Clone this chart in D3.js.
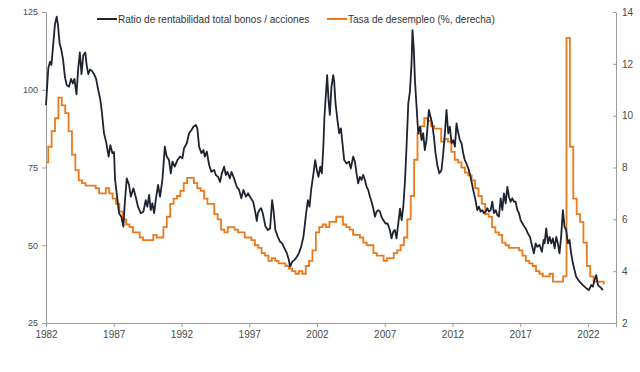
<!DOCTYPE html>
<html>
<head>
<meta charset="utf-8">
<script src="https://cdn.jsdelivr.net/npm/d3@7"></script>
<style>
  body { margin: 0; background: #fff; }
  svg { font-family: "Liberation Sans", Arial, sans-serif; }
</style>
</head>
<body>
<div id="chart-area"></div>
<script>
// ratio bonos / acciones (fechas en años decimales)
const ratioYears = [
  1982.00, 1982.17, 1982.30, 1982.40, 1982.54, 1982.66, 1982.79, 1982.88, 1983.00, 1983.12,
  1983.25, 1983.40, 1983.53, 1983.70, 1983.85, 1983.98, 1984.10, 1984.25, 1984.38, 1984.50,
  1984.62, 1984.75, 1984.90, 1985.00, 1985.12, 1985.25, 1985.40, 1985.55, 1985.70, 1985.85,
  1986.00, 1986.12, 1986.28, 1986.45, 1986.62, 1986.75, 1986.90, 1987.02, 1987.10, 1987.22,
  1987.39, 1987.56, 1987.71, 1987.83, 1987.96, 1988.13, 1988.26, 1988.45, 1988.62, 1988.79,
  1988.99, 1989.19, 1989.36, 1989.48, 1989.61, 1989.73, 1989.85, 1989.98, 1990.10, 1990.27,
  1990.42, 1990.59, 1990.77, 1990.91, 1991.08, 1991.21, 1991.33, 1991.50, 1991.70, 1991.90,
  1992.07, 1992.19, 1992.39, 1992.56, 1992.73, 1992.88, 1993.06, 1993.17, 1993.30, 1993.47,
  1993.62, 1993.72, 1993.87, 1994.04, 1994.21, 1994.41, 1994.53, 1994.70, 1994.85, 1994.98,
  1995.15, 1995.27, 1995.39, 1995.57, 1995.69, 1995.88, 1996.08, 1996.25, 1996.42, 1996.57,
  1996.75, 1996.92, 1997.12, 1997.29, 1997.44, 1997.56, 1997.64, 1997.75, 1997.88, 1998.00,
  1998.20, 1998.37, 1998.54, 1998.69, 1998.79, 1998.93, 1999.11, 1999.28, 1999.43, 1999.60,
  1999.78, 1999.92, 2000.02, 2000.17, 2000.34, 2000.52, 2000.66, 2000.83, 2001.00, 2001.20,
  2001.33, 2001.45, 2001.57, 2001.74, 2001.87, 2001.99, 2002.11, 2002.24, 2002.36, 2002.48,
  2002.55, 2002.68, 2002.75, 2002.85, 2002.95, 2003.07, 2003.20, 2003.27, 2003.37, 2003.51,
  2003.64, 2003.77, 2003.88, 2004.01, 2004.18, 2004.36, 2004.50, 2004.67, 2004.80, 2004.92,
  2005.04, 2005.17, 2005.29, 2005.41, 2005.54, 2005.66, 2005.78, 2005.91, 2006.03, 2006.15,
  2006.28, 2006.40, 2006.52, 2006.65, 2006.76, 2006.89, 2007.06, 2007.21, 2007.38, 2007.50,
  2007.63, 2007.75, 2007.87, 2008.00, 2008.13, 2008.25, 2008.37, 2008.50, 2008.61, 2008.74,
  2008.86, 2008.98, 2009.05, 2009.15, 2009.23, 2009.35, 2009.47, 2009.60, 2009.72, 2009.84,
  2009.96, 2010.08, 2010.26, 2010.38, 2010.50, 2010.63, 2010.75, 2010.90, 2011.04, 2011.19,
  2011.32, 2011.44, 2011.56, 2011.69, 2011.81, 2011.93, 2012.06, 2012.18, 2012.30, 2012.43,
  2012.55, 2012.67, 2012.79, 2012.91, 2013.03, 2013.21, 2013.36, 2013.53, 2013.70, 2013.83,
  2013.95, 2014.08, 2014.20, 2014.32, 2014.45, 2014.57, 2014.69, 2014.82, 2014.94, 2015.06,
  2015.19, 2015.31, 2015.43, 2015.56, 2015.68, 2015.80, 2015.93, 2016.05, 2016.17, 2016.29,
  2016.42, 2016.54, 2016.66, 2016.79, 2016.91, 2017.03, 2017.23, 2017.40, 2017.57, 2017.72,
  2017.89, 2018.01, 2018.14, 2018.26, 2018.43, 2018.60, 2018.73, 2018.80, 2018.92, 2019.05,
  2019.17, 2019.29, 2019.41, 2019.54, 2019.66, 2019.78, 2019.90, 2020.02, 2020.15, 2020.27,
  2020.39, 2020.52, 2020.64, 2020.76, 2020.89, 2021.01, 2021.13, 2021.38, 2021.62, 2021.87,
  2022.07, 2022.24, 2022.36, 2022.49, 2022.61, 2022.74, 2022.86, 2022.98, 2023.10
];
const ratioValues = [
  95, 107, 109, 108, 115, 121, 123.5, 121, 115, 113,
  110, 104, 101.5, 101, 103.5, 102, 103.5, 98.5, 107, 112,
  105, 111, 112, 108, 105, 106.5, 106, 105, 103.5, 100,
  97, 93, 86, 83, 78.5, 82.2, 79.6, 80, 71, 66.7,
  60.3, 59.2, 56, 64.5, 71.5, 69.4, 65.6, 68.3, 65.6, 62.4,
  60.3, 60.8, 64.5, 62.4, 66.2, 61.3, 63.5, 60.3, 64.5, 69.4,
  65.6, 71, 81.7, 78.5, 77.4, 73.1, 76.9, 75.3, 77.4, 78.5,
  78, 81.2, 82.8, 86, 87, 88.1, 88.7, 87.6, 81.7, 79.6,
  80.6, 78.5, 80.1, 75.8, 73.6, 74.2, 72.6, 72, 70.4, 73.1,
  75.3, 72.6, 73.6, 71.5, 73.6, 71.5, 68.8, 67.8, 65.1, 67.8,
  65.6, 66.7, 65.1, 64, 60.8, 57.8, 60.3, 61.3, 61.9, 60.3,
  56, 54.9, 55.4, 64.5, 61.3, 54.9, 52.7, 51.1, 50.6, 49,
  47.4, 45.3, 43.1, 44.7, 45.3, 46.3, 47.4, 49.5, 52.7, 60.3,
  64.5, 62.4, 67.8, 73.1, 77.4, 74.2, 72, 75.3, 73.1, 82.8,
  91.3, 99.9, 104.7, 97, 91.9, 101, 104.7, 102.6, 95.6, 90.3,
  86, 87.6, 82.8, 77.4, 76.3, 76.9, 74.7, 78.5, 76.9, 73.1,
  69.9, 72, 71, 72.6, 71, 68.8, 67.8, 65.6, 64, 61.9,
  59.2, 60.8, 61.3, 60.8, 59.2, 58.1, 57, 57, 54.9, 52.2,
  54.4, 54.9, 52.2, 57, 61.8, 58.1, 62.4, 71, 81.7, 95.6,
  99.4, 108.5, 119.2, 112.8, 103.1, 94.6, 86, 88.1, 83.8, 86,
  80.6, 83.8, 93.5, 91.3, 89.2, 84.9, 79.6, 75.3, 73.1, 74.2,
  79.6, 86, 93.5, 86, 88.1, 82.8, 83.8, 81.7, 89.2, 86,
  83.8, 82.8, 79.6, 77.4, 76.3, 74.2, 71.5, 67.8, 64.5, 61.3,
  62.4, 60.8, 61.3, 60.3, 60.8, 61.9, 60.8, 61.3, 64, 60.3,
  61.3, 59.7, 59.2, 65.1, 61.3, 66.7, 63.5, 68.8, 65.6, 64,
  65.1, 64, 64, 61.3, 60.3, 58.1, 56.5, 55.4, 53.8, 52.7,
  49.5, 47.4, 50.6, 49.5, 50.1, 47.9, 51.7, 50.6, 55.4, 50.6,
  52.7, 50.6, 52.2, 49, 52.7, 50.6, 47.4, 52.7, 61.3, 56,
  54.9, 50.6, 51.7, 47.4, 44.2, 42, 39.9, 38.3, 37.2, 36.2,
  35.6, 37.2, 36.7, 38.8, 40.4, 37.2, 36.7, 36.2, 35.6
];

// tasa de desempleo trimestral (%), desde 4T 1981 hasta 1T 2023
const unempStart = [1981, 4];
const unempValues = [
  8.2,
  8.8, 9.4, 9.9, 10.7,  10.4, 10.1, 9.4, 8.5,  7.9, 7.5, 7.4, 7.3,  7.3, 7.3, 7.2, 7.0,
  7.0, 7.2, 7.0, 6.8,  6.6, 6.3, 6.0, 5.8,  5.7, 5.5, 5.5, 5.3,  5.2, 5.2, 5.2, 5.4,
  5.3, 5.3, 5.7, 6.1,  6.6, 6.8, 6.9, 7.1,  7.4, 7.6, 7.6, 7.4,  7.2, 7.1, 6.8, 6.6,
  6.6, 6.2, 6.0, 5.6,  5.5, 5.7, 5.7, 5.6,  5.5, 5.5, 5.3, 5.3,  5.2, 5.0, 4.9, 4.7,
  4.6, 4.4, 4.5, 4.4,  4.3, 4.3, 4.2, 4.1,  4.0, 3.9, 4.0, 3.9,  4.2, 4.4, 4.8, 5.5,
  5.7, 5.8, 5.7, 5.9,  5.9, 6.1, 6.1, 5.8,  5.7, 5.6, 5.4, 5.4,  5.3, 5.1, 5.0, 5.0,
  4.7, 4.6, 4.6, 4.4,  4.5, 4.5, 4.7, 4.8,  5.0, 5.3, 6.0, 6.9,  8.3, 9.3, 9.6, 9.9,
  9.8, 9.6, 9.5, 9.5,  9.0, 9.1, 9.0, 8.6,  8.3, 8.2, 8.0, 7.8,  7.7, 7.5, 7.2, 6.9,
  6.6, 6.2, 6.1, 5.7,  5.5, 5.4, 5.1, 5.0,  4.9, 4.9, 4.9, 4.8,  4.6, 4.4, 4.3, 4.2,
  4.0, 3.9, 3.8, 3.8,  3.9, 3.6, 3.6, 3.6,  3.8, 13.0, 8.8, 6.8,  6.2, 5.9, 5.1, 4.2,
  3.8, 3.6, 3.6, 3.6,  3.5
];

const xTicks = [1982, 1987, 1992, 1997, 2002, 2007, 2012, 2017, 2022];
const leftTicks = [25, 50, 75, 100, 125];
const rightTicks = [2, 4, 6, 8, 10, 12, 14];
const seriesNames = ["Ratio de rentabilidad total bonos / acciones", "Tasa de desempleo (%, derecha)"];
const seriesColors = ["#1f2330", "#ec7a1c"];

const width = 640;
const height = 372;
const margin = { top: 12, right: 24, bottom: 49, left: 46 };

const svg = d3.select("#chart-area")
  .append("svg")
  .attr("width", width)
  .attr("height", height);

const x = d3.scaleLinear()
  .domain([1982, 2024.07])
  .range([margin.left, width - margin.right]);

const yLeft = d3.scaleLinear()
  .domain([25, 125])
  .range([height - margin.bottom, margin.top]);

const yRight = d3.scaleLinear()
  .domain([2, 14])
  .range([height - margin.bottom, margin.top]);

svg.append("clipPath")
  .attr("id", "plot-clip")
  .append("rect")
  .attr("x", margin.left)
  .attr("y", 0)
  .attr("width", width - margin.right - margin.left)
  .attr("height", height);

// ejes
const axisColor = "#9b9b9b";
const textColor = "#4a4a4a";

const gx = svg.append("g")
  .attr("transform", `translate(0,${height - margin.bottom})`)
  .call(d3.axisBottom(x).tickValues(xTicks).tickFormat(d3.format("d")).tickSize(4).tickSizeOuter(4).tickPadding(4));

const gl = svg.append("g")
  .attr("transform", `translate(${margin.left},0)`)
  .call(d3.axisLeft(yLeft).tickValues(leftTicks).tickSize(4).tickSizeOuter(0).tickPadding(4));

const gr = svg.append("g")
  .attr("transform", `translate(${width - margin.right},0)`)
  .call(d3.axisRight(yRight).tickValues(rightTicks).tickSize(-3).tickSizeOuter(0).tickPadding(6));

[gx, gl, gr].forEach(g => {
  g.selectAll("path, line").attr("stroke", axisColor);
  g.selectAll("text").attr("fill", textColor).attr("font-family", "Liberation Sans, Arial, sans-serif");
});
gx.selectAll("text").attr("font-size", 10);
gl.selectAll("text").attr("font-size", 9);
gr.selectAll("text").attr("font-size", 10);

// desempleo (escalones trimestrales)
const unempData = unempValues.map((v, i) => {
  const q = unempStart[1] - 1 + i;
  const yr = unempStart[0] + Math.floor(q / 4);
  const qq = q % 4 + 1;
  return { t: yr + (qq * 3 - 1) / 12, v: v };
});

svg.append("path")
  .datum(unempData)
  .attr("clip-path", "url(#plot-clip)")
  .attr("fill", "none")
  .attr("stroke", seriesColors[1])
  .attr("stroke-width", 1.8)
  .attr("d", d3.line()
    .curve(d3.curveStepAfter)
    .x(d => x(d.t))
    .y(d => yRight(d.v)));

// ratio
const ratioData = ratioYears.map((t, i) => ({ t: t, v: ratioValues[i] }));

svg.append("path")
  .datum(ratioData)
  .attr("fill", "none")
  .attr("stroke", seriesColors[0])
  .attr("stroke-width", 1.8)
  .attr("stroke-linejoin", "round")
  .attr("d", d3.line()
    .x(d => x(d.t))
    .y(d => yLeft(d.v)));

// leyenda
const legendX = [97, 327];
const legend = svg.selectAll(".legend")
  .data(seriesNames)
  .enter()
  .append("g")
  .attr("class", "legend")
  .attr("transform", (d, i) => `translate(${legendX[i]},19)`);

legend.append("line")
  .attr("x1", 0)
  .attr("x2", 20)
  .attr("stroke", (d, i) => seriesColors[i])
  .attr("stroke-width", 2);

legend.append("text")
  .attr("x", 21)
  .attr("y", 3.5)
  .attr("font-size", 10)
  .attr("fill", "#333")
  .text(d => d);
</script>
</body>
</html>
